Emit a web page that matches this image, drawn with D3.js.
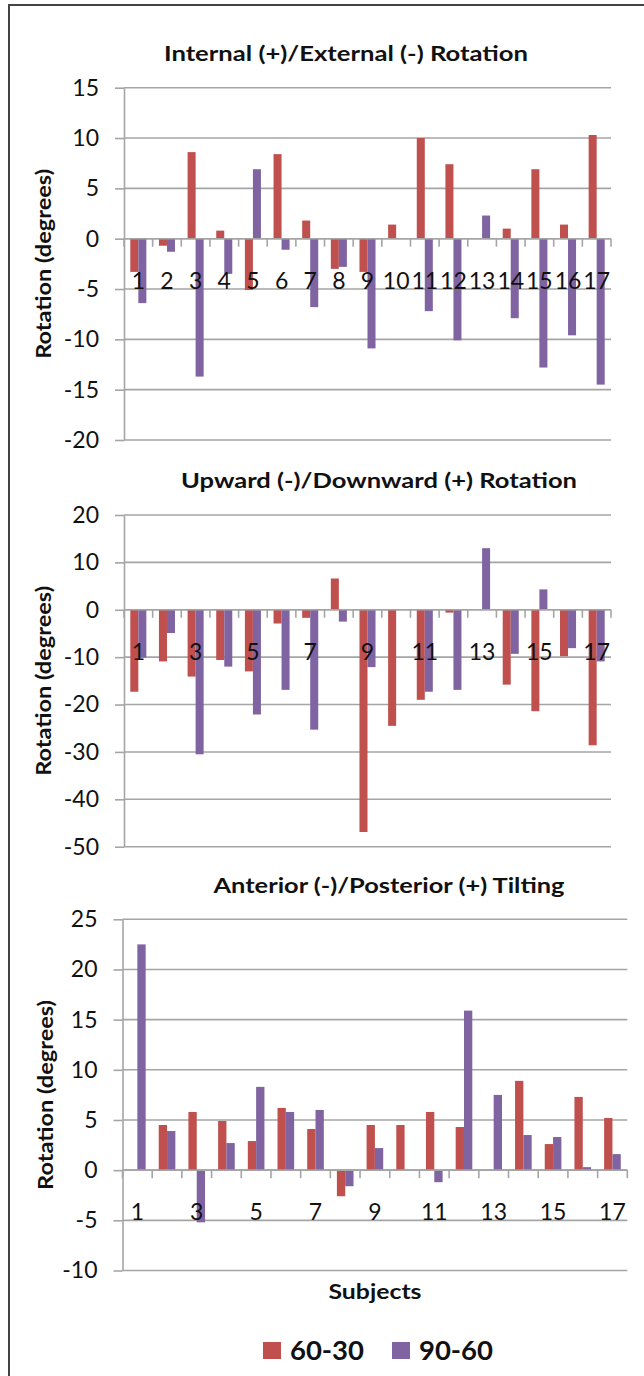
<!DOCTYPE html>
<html>
<head>
<meta charset="utf-8">
<script src="https://cdn.jsdelivr.net/npm/d3@7"></script>
<style>
  body { margin: 0; background: #fff; }
  svg { display: block; }
</style>
</head>
<body>
<svg id="chart" width="644" height="1376"></svg>
<script>
const subjects = d3.range(1, 18).map(String);
const seriesNames = ["60-30", "90-60"];
const colors = ["#C0504D", "#8064A2"];

// Internal (+)/External (-) Rotation
const intExt6030 = [-3.3, -0.7, 8.6, 0.8, -5.1, 8.4, 1.8, -3.0, -3.3, 1.4, 10.0, 7.4, 0, 1.0, 6.9, 1.4, 10.3];
const intExt9060 = [-6.4, -1.3, -13.7, -3.5, 6.9, -1.1, -6.8, -2.8, -10.9, 0, -7.2, -10.1, 2.3, -7.9, -12.8, -9.6, -14.5];
const intExtTicks = [-20, -15, -10, -5, 0, 5, 10, 15];

// Upward (-)/Downward (+) Rotation
const upDown6030 = [-17.3, -10.9, -14.1, -10.6, -13.0, -2.9, -1.7, 6.6, -46.9, -24.5, -19.0, -0.6, 0, -15.8, -21.4, -9.8, -28.6];
const upDown9060 = [-10.1, -4.9, -30.5, -12.0, -22.1, -16.9, -25.3, -2.5, -12.1, 0, -17.3, -16.9, 13.0, -9.3, 4.3, -8.1, -10.9];
const upDownTicks = [-50, -40, -30, -20, -10, 0, 10, 20];

// Anterior (-)/Posterior (+) Tilting
const antPost6030 = [0, 4.5, 5.8, 4.9, 2.9, 6.2, 4.1, -2.6, 4.5, 4.5, 5.8, 4.3, 0, 8.9, 2.6, 7.3, 5.2];
const antPost9060 = [22.5, 3.9, -5.2, 2.7, 8.3, 5.8, 6.0, -1.6, 2.2, 0, -1.2, 15.9, 7.5, 3.5, 3.3, 0.3, 1.6];
const antPostTicks = [-10, -5, 0, 5, 10, 15, 20, 25];

const FONT = "Lato, 'Open Sans', sans-serif";
const GRID = "#a5a5a5";

const svg = d3.select("svg#chart");

// frame of the original figure (only top and left edges are in view)
svg.append("path")
    .attr("d", "M9,1376 V5 H644")
    .attr("fill", "none")
    .attr("stroke", "#444")
    .attr("stroke-width", 2);

barChart({
    svg, title: "Internal (+)/External (-) Rotation", titleX: 346, titleY: 61, titleW: 364,
    a: intExt6030, b: intExt9060, ticks: intExtTicks,
    left: 124, right: 611, top: 87.7, bottom: 440,
    labelEvery: 1, yTitleX: 44,
});
barChart({
    svg, title: "Upward (-)/Downward (+) Rotation", titleX: 379, titleY: 488, titleW: 396,
    a: upDown6030, b: upDown9060, ticks: upDownTicks,
    left: 124, right: 611, top: 515, bottom: 846.7,
    labelEvery: 2, yTitleX: 44,
});
barChart({
    svg, title: "Anterior (-)/Posterior (+) Tilting", titleX: 389, titleY: 893, titleW: 351,
    a: antPost6030, b: antPost9060, ticks: antPostTicks,
    left: 122.5, right: 627.3, top: 919.3, bottom: 1270.5,
    labelEvery: 2, yTitleX: 46,
});

// x axis title
svg.append("text")
    .attr("x", 375).attr("y", 1299)
    .attr("text-anchor", "middle")
    .attr("font-family", FONT).attr("font-weight", 700).attr("font-size", 20)
    .attr("textLength", 93).attr("lengthAdjust", "spacingAndGlyphs")
    .attr("fill", "#111")
    .text("Subjects");

// legend
const legend = svg.append("g").attr("transform", "translate(263,1342)");
const legendX = d3.scaleOrdinal().domain(seriesNames).range([0, 129]);
const item = legend.selectAll("g").data(seriesNames).join("g")
    .attr("transform", d => `translate(${legendX(d)},0)`);
item.append("rect")
    .attr("width", 18).attr("height", 17)
    .attr("fill", (d, i) => colors[i]);
item.append("text")
    .attr("x", 27).attr("y", 17.5)
    .attr("font-family", FONT).attr("font-weight", 700).attr("font-size", 26)
    .attr("textLength", 74).attr("lengthAdjust", "spacingAndGlyphs")
    .attr("fill", "#111")
    .text(d => d);

function barChart({ svg, title, titleX, titleY, titleW, a, b, ticks, left, right, top, bottom, labelEvery, yTitleX }) {
    const g = svg.append("g");
    const data = subjects.map((s, i) => ({ subject: s, values: [a[i], b[i]] }));

    const x = d3.scaleBand()
        .domain(subjects)
        .range([left, right])
        .paddingInner(0.44)
        .paddingOuter(0.22);
    const x1 = d3.scaleBand().domain(seriesNames).range([0, x.bandwidth()]);

    const y = d3.scaleLinear()
        .domain(d3.extent(ticks))
        .range([bottom, top]);

    // gridlines
    g.append("g").selectAll("line").data(ticks).join("line")
        .attr("x1", left).attr("x2", right)
        .attr("y1", d => y(d)).attr("y2", d => y(d))
        .attr("stroke", GRID).attr("stroke-width", 1.6);

    // y axis with outside ticks
    const yAxis = g.append("g")
        .attr("transform", `translate(${left},0)`)
        .call(d3.axisLeft(y).tickValues(ticks).tickSizeInner(9).tickSizeOuter(0).tickPadding(16).tickFormat(d => String(d)));
    yAxis.select(".domain").attr("stroke", GRID).attr("stroke-width", 1.6);
    yAxis.selectAll(".tick line").attr("stroke", GRID).attr("stroke-width", 1.6);
    yAxis.selectAll(".tick text")
        .attr("font-family", FONT).attr("font-size", 23).attr("fill", "#111");

    // bars
    g.append("g").selectAll("g").data(data).join("g")
        .attr("transform", d => `translate(${x(d.subject)},0)`)
        .selectAll("rect").data(d => d.values.map((v, i) => ({ key: seriesNames[i], v, i })))
        .join("rect")
        .attr("x", d => x1(d.key))
        .attr("width", x1.bandwidth())
        .attr("y", d => y(Math.max(0, d.v)))
        .attr("height", d => Math.abs(y(d.v) - y(0)))
        .attr("fill", d => colors[d.i]);

    // category axis at zero, ticks between categories
    const zero = y(0);
    g.append("line")
        .attr("x1", left).attr("x2", right)
        .attr("y1", zero).attr("y2", zero)
        .attr("stroke", GRID).attr("stroke-width", 1.6);
    const bounds = subjects.map(s => x(s) - x.step() * x.paddingInner() / 2).concat([right]);
    g.append("g").selectAll("line").data(bounds).join("line")
        .attr("x1", d => d).attr("x2", d => d)
        .attr("y1", zero).attr("y2", zero + 8)
        .attr("stroke", GRID).attr("stroke-width", 1.6);

    g.append("g").selectAll("text")
        .data(subjects.filter((s, i) => i % labelEvery === 0))
        .join("text")
        .attr("x", d => x(d) + x.bandwidth() / 2)
        .attr("y", zero + 42)
        .attr("dy", "0.35em")
        .attr("text-anchor", "middle")
        .attr("font-family", FONT).attr("font-size", 23).attr("fill", "#111")
        .text(d => d);

    // titles
    g.append("text")
        .attr("x", titleX).attr("y", titleY)
        .attr("text-anchor", "middle")
        .attr("font-family", FONT).attr("font-weight", 700).attr("font-size", 21)
        .attr("textLength", titleW).attr("lengthAdjust", "spacingAndGlyphs")
        .attr("fill", "#111")
        .text(title);

    g.append("text")
        .attr("transform", `translate(${yTitleX},${(top + bottom) / 2}) rotate(-90)`)
        .attr("dy", "0.35em")
        .attr("text-anchor", "middle")
        .attr("font-family", FONT).attr("font-weight", 700).attr("font-size", 21)
        .attr("textLength", 190).attr("lengthAdjust", "spacingAndGlyphs")
        .attr("fill", "#111")
        .text("Rotation (degrees)");
}
</script>
</body>
</html>
